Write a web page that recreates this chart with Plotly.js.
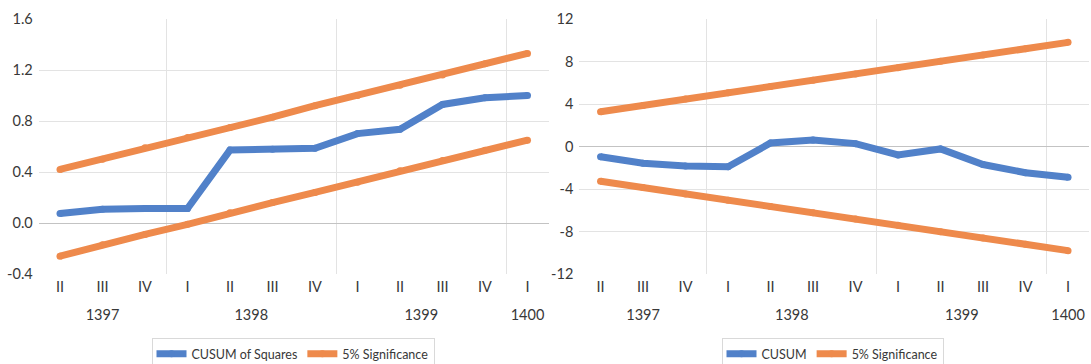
<!DOCTYPE html>
<html>
<head>
<meta charset="utf-8">
<script src="https://cdn.plot.ly/plotly-3.0.1.min.js"></script>
<style>
  html, body { margin: 0; padding: 0; background: #ffffff; }
  #chart { width: 1091px; height: 364px; }
</style>
</head>
<body>
<div id="chart"></div>
<script>
// ---- data ----
const years    = ['1397','1397','1397','1398','1398','1398','1398','1399','1399','1399','1399','1400'];
const quarters = ['II','III','IV','I','II','III','IV','I','II','III','IV','I'];

const cusumSq      = [0.074, 0.107, 0.113, 0.113, 0.572, 0.578, 0.586, 0.701, 0.735, 0.930, 0.982, 1.0];
const cusumSqUpper = [0.42, 0.50, 0.59, 0.67, 0.75, 0.83, 0.92, 1.00, 1.08, 1.16, 1.25, 1.33];
const cusumSqLower = [-0.26, -0.17, -0.09, -0.01, 0.08, 0.16, 0.24, 0.32, 0.41, 0.49, 0.57, 0.65];

const cusum      = [-0.96, -1.57, -1.83, -1.90, 0.33, 0.61, 0.27, -0.80, -0.23, -1.70, -2.47, -2.90];
const cusumUpper = [3.27, 3.86, 4.46, 5.05, 5.64, 6.24, 6.83, 7.42, 8.02, 8.61, 9.21, 9.80];
const cusumLower = [-3.27, -3.86, -4.46, -5.05, -5.64, -6.24, -6.83, -7.42, -8.02, -8.61, -9.21, -9.80];

const leftTickVals  = [-0.4, 0, 0.4, 0.8, 1.2, 1.6];
const leftTickText  = ['-0.4', '0.0', '0.4', '0.8', '1.2', '1.6'];
const rightTickVals = [-12, -8, -4, 0, 4, 8, 12];
const rightTickText = ['-12', '-8', '-4', '0', '4', '8', '12'];

const seriesNames = { sq: 'CUSUM of Squares', cu: 'CUSUM', sig: '5% Significance' };

// ---- styling ----
const BLUE = '#5181c9';
const ORANGE = '#ee8a4c';
const TXT = '#383838';
const FONT = 'Lato, "Open Sans", sans-serif';
const GRID = '#e3e3e3';
const LW = 7;

// unique category keys (year + quarter), shown with the quarter label only
const catKeys = years.map((y, i) => y + ' ' + quarters[i]);

// year boundaries (vertical grid) and year group centres (outer labels), derived from the arrays
const boundaries = [];
for (let i = 1; i < years.length; i++) if (years[i] !== years[i - 1]) boundaries.push(i - 0.5);
const yearLabels = [], yearCentres = [];
years.forEach(y => { if (!yearLabels.includes(y)) yearLabels.push(y); });
yearLabels.forEach(y => {
  const idx = years.map((v, i) => v === y ? i : -1).filter(i => i >= 0);
  yearCentres.push((idx[0] + idx[idx.length - 1]) / 2);
});

function line(y, color, name, xa, ya, legend, show, group) {
  return {
    type: 'scatter', mode: 'lines+markers',
    x: catKeys, y: y, name: name,
    xaxis: xa, yaxis: ya, legend: legend,
    showlegend: show, legendgroup: group,
    line: { color: color, width: LW },
    marker: { color: color, size: LW, line: { width: 0 } },
    hoverinfo: 'skip'
  };
}
// empty helper traces so that the overlay axes (grid / year labels) get a subplot
function helper(xa, ya) {
  return { type: 'scatter', mode: 'none', x: [], y: [], xaxis: xa, yaxis: ya,
           showlegend: false, hoverinfo: 'skip' };
}

const data = [
  helper('x3', 'y'), helper('x4', 'y2'), helper('x5', 'y'), helper('x6', 'y2'),
  line(cusumSq, BLUE, seriesNames.sq, 'x', 'y', 'legend', true, 'a1'),
  line(cusumSqUpper, ORANGE, seriesNames.sig, 'x', 'y', 'legend', true, 'a2'),
  line(cusumSqLower, ORANGE, seriesNames.sig, 'x', 'y', 'legend', false, 'a2'),
  line(cusum, BLUE, seriesNames.cu, 'x2', 'y2', 'legend2', true, 'b1'),
  line(cusumUpper, ORANGE, seriesNames.sig, 'x2', 'y2', 'legend2', true, 'b2'),
  line(cusumLower, ORANGE, seriesNames.sig, 'x2', 'y2', 'legend2', false, 'b2')
];

const W = 1091, H = 364;
const leftDom  = [38.75 / W, 548.75 / W];
const rightDom = [579.3 / W, 1089.3 / W];
const XR = [-0.5, years.length - 0.5];
const TICKSIZE = 14.5;

function catAxis(dom, anchor) {
  return {
    type: 'category', domain: dom, anchor: anchor, range: XR,
    categoryorder: 'array', categoryarray: catKeys,
    tickmode: 'array', tickvals: catKeys, ticktext: quarters,
    showgrid: false, showline: false, zeroline: false,
    ticks: '', ticklabelstandoff: 2, automargin: false,
    tickfont: { family: FONT, size: TICKSIZE, color: TXT },
    fixedrange: true
  };
}
function gridAxis(over, anchor) {
  return {
    type: 'linear', overlaying: over, anchor: anchor, range: XR,
    tickmode: 'array', tickvals: boundaries,
    showgrid: true, gridcolor: GRID, gridwidth: 1,
    showticklabels: false, ticks: '', showline: false, zeroline: false,
    automargin: false, fixedrange: true
  };
}
function yearAxis(over, anchor) {
  return {
    type: 'linear', overlaying: over, anchor: anchor, range: XR,
    tickmode: 'array', tickvals: yearCentres, ticktext: yearLabels,
    showgrid: false, ticks: '', showline: false, zeroline: false,
    ticklabelstandoff: 30, automargin: false,
    tickfont: { family: FONT, size: TICKSIZE, color: TXT },
    fixedrange: true
  };
}
function valAxis(anchor, range, tv, tt) {
  return {
    anchor: anchor, domain: [0, 1], range: range,
    tickmode: 'array', tickvals: tv, ticktext: tt,
    showgrid: true, gridcolor: GRID, gridwidth: 1,
    zeroline: true, zerolinecolor: '#c3c3c3', zerolinewidth: 1,
    showline: false, ticks: '', ticklabelstandoff: 5, automargin: false,
    tickfont: { family: FONT, size: TICKSIZE, color: TXT },
    fixedrange: true
  };
}
function legendCfg(xc) {
  return {
    orientation: 'h', x: xc, xanchor: 'center', xref: 'container',
    y: 1 - 338 / H, yanchor: 'top', yref: 'container',
    bgcolor: '#ffffff', bordercolor: '#d9d9d9', borderwidth: 1,
    font: { family: FONT, size: 12.5, color: TXT },
    itemwidth: 30, tracegroupgap: 0
  };
}

const layout = {
  width: W, height: H,
  margin: { l: 0, r: 0, t: 19, b: 90, pad: 0, autoexpand: false },
  paper_bgcolor: '#ffffff', plot_bgcolor: '#ffffff',
  font: { family: FONT, color: TXT },
  xaxis: catAxis(leftDom, 'y'),
  yaxis: valAxis('x', [-0.4, 1.6], leftTickVals, leftTickText),
  xaxis2: catAxis(rightDom, 'y2'),
  yaxis2: valAxis('x2', [-12, 12], rightTickVals, rightTickText),
  xaxis3: gridAxis('x', 'y'),
  xaxis4: gridAxis('x2', 'y2'),
  xaxis5: yearAxis('x', 'y'),
  xaxis6: yearAxis('x2', 'y2'),
  legend: legendCfg(293 / W),
  legend2: legendCfg(832.5 / W),
  hovermode: false
};

Plotly.newPlot('chart', data, layout, { staticPlot: true, displayModeBar: false });
</script>
</body>
</html>
